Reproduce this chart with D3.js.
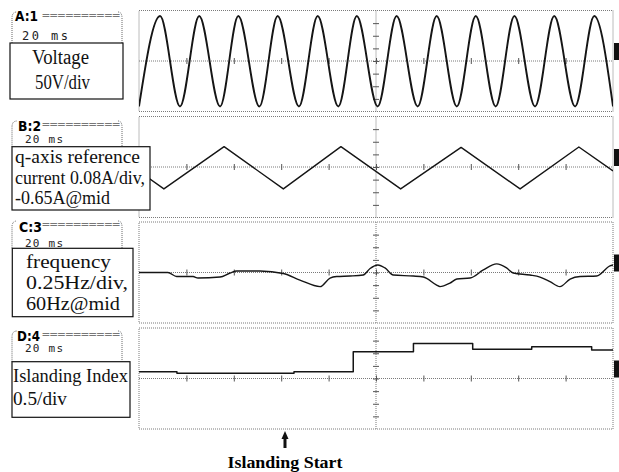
<!DOCTYPE html>
<html>
<head>
<meta charset="utf-8">
<script src="https://cdn.jsdelivr.net/npm/d3@7"></script>
<style>
  html, body { margin: 0; padding: 0; background: #fff; }
  svg { display: block; }
</style>
</head>
<body>
<svg id="chart" width="619" height="472"></svg>
<script>
// time base: 20 ms/div, 10 divisions across the screen
const timeDomain = [0, 200];
const timeTicks = [20, 40, 60, 80, 100, 120, 140, 160, 180];
const islandingStart = 61.6;

// Ch A: voltage, times (ms) of each trough / peak and their values (V)
const voltageTimes = [0, 8.9, 17.3, 25.4, 34.2, 41.9, 50.8, 58.5, 67.5, 75.4, 84.1, 91.9, 100.7,
  108.7, 117.6, 125.6, 134.1, 142.1, 150.5, 158.4, 167.1, 175.2, 184.0, 192.1, 200];
const voltageValues = [-180, 178, -180, 178, -180, 178, -180, 178, -180, 178, -180, 178, -180,
  178, -180, 178, -180, 178, -180, 178, -180, 178, -180, 178, -180];

// Ch B: q-axis reference current, triangle vertices (ms, A)
const currentTimes = [0, 10.5, 35.9, 60.9, 85.2, 110.4, 135.9, 160.8, 185.6, 200];
const currentValues = [-0.677, -0.789, -0.521, -0.789, -0.521, -0.789, -0.526, -0.789, -0.523, -0.675];

// Ch C: frequency (ms, Hz)
const freqTimes = [0, 12.2, 15.9, 22.8, 24.9, 34.2, 38.4, 41.2, 51.1, 60.9, 67.9, 76.4, 80.6, 83.4,
  89.0, 94.6, 97.5, 100.8, 103.8, 107.3, 115.7, 120.0, 125.6, 127.0, 131.2, 134.1, 139.7, 145.3,
  150.9, 155.1, 157.9, 165.0, 169.2, 173.4, 177.6, 181.9, 186.1, 193.1, 198.7, 200];
const freqValues = [60.00, 60.00, 59.92, 59.92, 59.89, 59.91, 59.99, 60.03, 60.03, 59.98, 59.85,
  59.72, 59.89, 59.92, 59.93, 59.95, 60.08, 60.15, 60.09, 59.95, 59.93, 59.91, 59.75, 59.72, 59.79,
  59.87, 59.89, 60.05, 60.17, 60.09, 59.99, 59.95, 59.91, 59.82, 59.72, 59.87, 59.92, 59.93, 60.13, 60.15];

// Ch D: islanding index, step levels (ms, index)
const indexTimes = [0, 16.0, 65.4, 90.4, 115.8, 140.8, 165.7, 191.0, 200];
const indexValues = [0.27, 0.21, 0.27, 1.06, 1.39, 1.16, 1.26, 1.13, 1.13];

// channel labels
const headerLabels = ['A:1', 'B:2', 'C:3', 'D:4'];
const timebaseLabel = '20 ms';
const labelA = ['Voltage', '50V/div'];
const labelB = ['q-axis reference', 'current 0.08A/div,', '-0.65A@mid'];
const labelC = ['frequency', '0.25Hz/div,', '60Hz@mid'];
const labelD = ['Islanding Index', '0.5/div'];
const startLabel = 'Islanding Start';

const channels = [
  { times: voltageTimes, values: voltageValues, mid: 0, perDiv: 50, curve: d3.curveMonotoneX, width: 1.9 },
  { times: currentTimes, values: currentValues, mid: -0.65, perDiv: 0.08, curve: d3.curveLinear, width: 1.4 },
  { times: freqTimes, values: freqValues, mid: 60, perDiv: 0.25, curve: d3.curveMonotoneX, width: 1.4 },
  { times: indexTimes, values: indexValues, mid: 0, perDiv: 0.5, curve: d3.curveStepAfter, width: 1.5 }
];

// label box layouts (screen px)
const boxes = [
  { x: 10, y: 43, w: 113, h: 56, size: 20, lines: labelA, lx: [32, 35], base: [63.5, 89], len: [57, 55],
    hdrBase: 21, hdrX: 15, msBase: 40, msLen: 46, top: 12 },
  { x: 12, y: 146.7, w: 138, h: 63.3, size: 18, lines: labelB, lx: [15, 15, 15], base: [163.3, 184, 204], len: [125, 130, 95],
    hdrBase: 131, hdrX: 18, msBase: 142.5, msLen: 38, top: 121 },
  { x: 12.3, y: 248.3, w: 120.7, h: 68.4, size: 19, lines: labelC, lx: [26, 26, 26], base: [267.5, 289, 309.5], len: [85, 102, 94],
    hdrBase: 232, hdrX: 19, msBase: 246.5, msLen: 38, top: 221 },
  { x: 12, y: 361.7, w: 118, h: 55.6, size: 19, lines: labelD, lx: [13, 13], base: [381.5, 405], len: [115, 54],
    hdrBase: 341, hdrX: 17, msBase: 352, msLen: 38, top: 331 }
];

const svg = d3.select('#chart');
const defs = svg.append('defs');

const panelTops = [10.5, 116.5, 222, 328];
const panelH = 101;
const gridColor = '#7a7a7a';

const x = d3.scaleLinear().domain(timeDomain).range([139, 613]);

channels.forEach((ch, i) => {
  const top = panelTops[i];
  const y = d3.scaleLinear()
    .domain([ch.mid - 4 * ch.perDiv, ch.mid + 4 * ch.perDiv])
    .range([top + panelH, top]);
  const yMid = y(ch.mid);
  const g = svg.append('g');

  defs.append('clipPath').attr('id', 'clip' + i)
    .append('rect')
    .attr('x', x(0)).attr('y', top)
    .attr('width', x(200) - x(0)).attr('height', panelH);

  // screen border
  g.append('rect')
    .attr('x', x(0)).attr('y', top)
    .attr('width', x(200) - x(0)).attr('height', panelH)
    .attr('fill', 'none')
    .attr('stroke', gridColor)
    .attr('stroke-dasharray', '1,1');

  // center cross
  g.append('line')
    .attr('x1', x(0)).attr('x2', x(200))
    .attr('y1', yMid).attr('y2', yMid)
    .attr('stroke', gridColor).attr('stroke-dasharray', '1,1');
  g.append('line')
    .attr('x1', x(100)).attr('x2', x(100))
    .attr('y1', top).attr('y2', top + panelH)
    .attr('stroke', gridColor).attr('stroke-dasharray', '1,1');

  // division ticks along the center cross
  const xAxis = g.append('g')
    .attr('transform', `translate(0,${yMid - 3})`)
    .call(d3.axisBottom(x).tickValues(timeTicks).tickSize(6).tickFormat(''));
  const yAxis = g.append('g')
    .attr('transform', `translate(${x(100) - 3},0)`)
    .call(d3.axisRight(y).tickValues(d3.range(-3, 4).map(k => ch.mid + k * ch.perDiv)).tickSize(6).tickFormat(''));
  [xAxis, yAxis].forEach(a => {
    a.select('.domain').remove();
    a.selectAll('line').attr('stroke', '#555');
  });

  // trace
  const line = d3.line()
    .x((d) => x(d[0]))
    .y((d) => y(d[1]))
    .curve(ch.curve);
  g.append('path')
    .datum(d3.zip(ch.times, ch.values))
    .attr('clip-path', `url(#clip${i})`)
    .attr('d', line)
    .attr('fill', 'none')
    .attr('stroke', '#151515')
    .attr('stroke-width', ch.width)
    .attr('stroke-linejoin', 'round');

  // channel ground marker on the right edge
  g.append('rect')
    .attr('x', 614).attr('y', yMid - 18)
    .attr('width', 6).attr('height', 17)
    .attr('fill', '#111');
});

// channel tabs and label boxes
boxes.forEach((b, i) => {
  const g = svg.append('g');
  const t = b.top;

  // rounded tab outline
  g.append('path')
    .attr('d', `M12,${b.y} V${t + 6} Q12,${t} 17,${t} M118,${t} Q122,${t} 122,${t + 6} V${b.y}`)
    .attr('fill', 'none')
    .attr('stroke', '#666')
    .attr('stroke-dasharray', '1,1');

  g.append('text')
    .attr('x', b.hdrX).attr('y', b.hdrBase)
    .attr('font-family', 'DejaVu Sans')
    .attr('font-weight', 'bold')
    .attr('font-size', 14)
    .attr('textLength', 23)
    .attr('lengthAdjust', 'spacingAndGlyphs')
    .text(headerLabels[i]);

  g.append('text')
    .attr('x', 42).attr('y', t + 7)
    .attr('font-family', 'DejaVu Sans Mono')
    .attr('font-size', 10)
    .attr('fill', '#777')
    .attr('textLength', 78)
    .attr('lengthAdjust', 'spacingAndGlyphs')
    .text('==========');

  g.append('text')
    .attr('x', i === 0 ? 22 : 25).attr('y', b.msBase)
    .attr('font-family', 'DejaVu Sans Mono')
    .attr('font-size', i === 0 ? 12 : 11)
    .attr('fill', '#222')
    .attr('textLength', b.msLen)
    .attr('lengthAdjust', 'spacing')
    .text(timebaseLabel);

  g.append('rect')
    .attr('x', b.x).attr('y', b.y)
    .attr('width', b.w).attr('height', b.h)
    .attr('fill', '#fff')
    .attr('stroke', '#111')
    .attr('stroke-width', 1.2);

  b.lines.forEach((s, k) => {
    g.append('text')
      .attr('x', b.lx[k]).attr('y', b.base[k])
      .attr('font-family', 'Liberation Serif')
      .attr('font-size', b.size)
      .attr('fill', '#111')
      .attr('textLength', b.len[k])
      .attr('lengthAdjust', 'spacingAndGlyphs')
      .text(s);
  });
});

// islanding start arrow
const ax = x(islandingStart);
svg.append('path')
  .attr('d', `M${ax},431 L${ax - 3.5},439 L${ax + 3.5},439 Z`)
  .attr('fill', '#111');
svg.append('rect')
  .attr('x', ax - 1.5).attr('y', 437)
  .attr('width', 3).attr('height', 11)
  .attr('fill', '#111');
svg.append('text')
  .attr('x', ax).attr('y', 467.5)
  .attr('text-anchor', 'middle')
  .attr('font-family', 'Liberation Serif')
  .attr('font-weight', 'bold')
  .attr('font-size', 17)
  .attr('textLength', 115)
  .attr('lengthAdjust', 'spacingAndGlyphs')
  .text(startLabel);
</script>
</body>
</html>
